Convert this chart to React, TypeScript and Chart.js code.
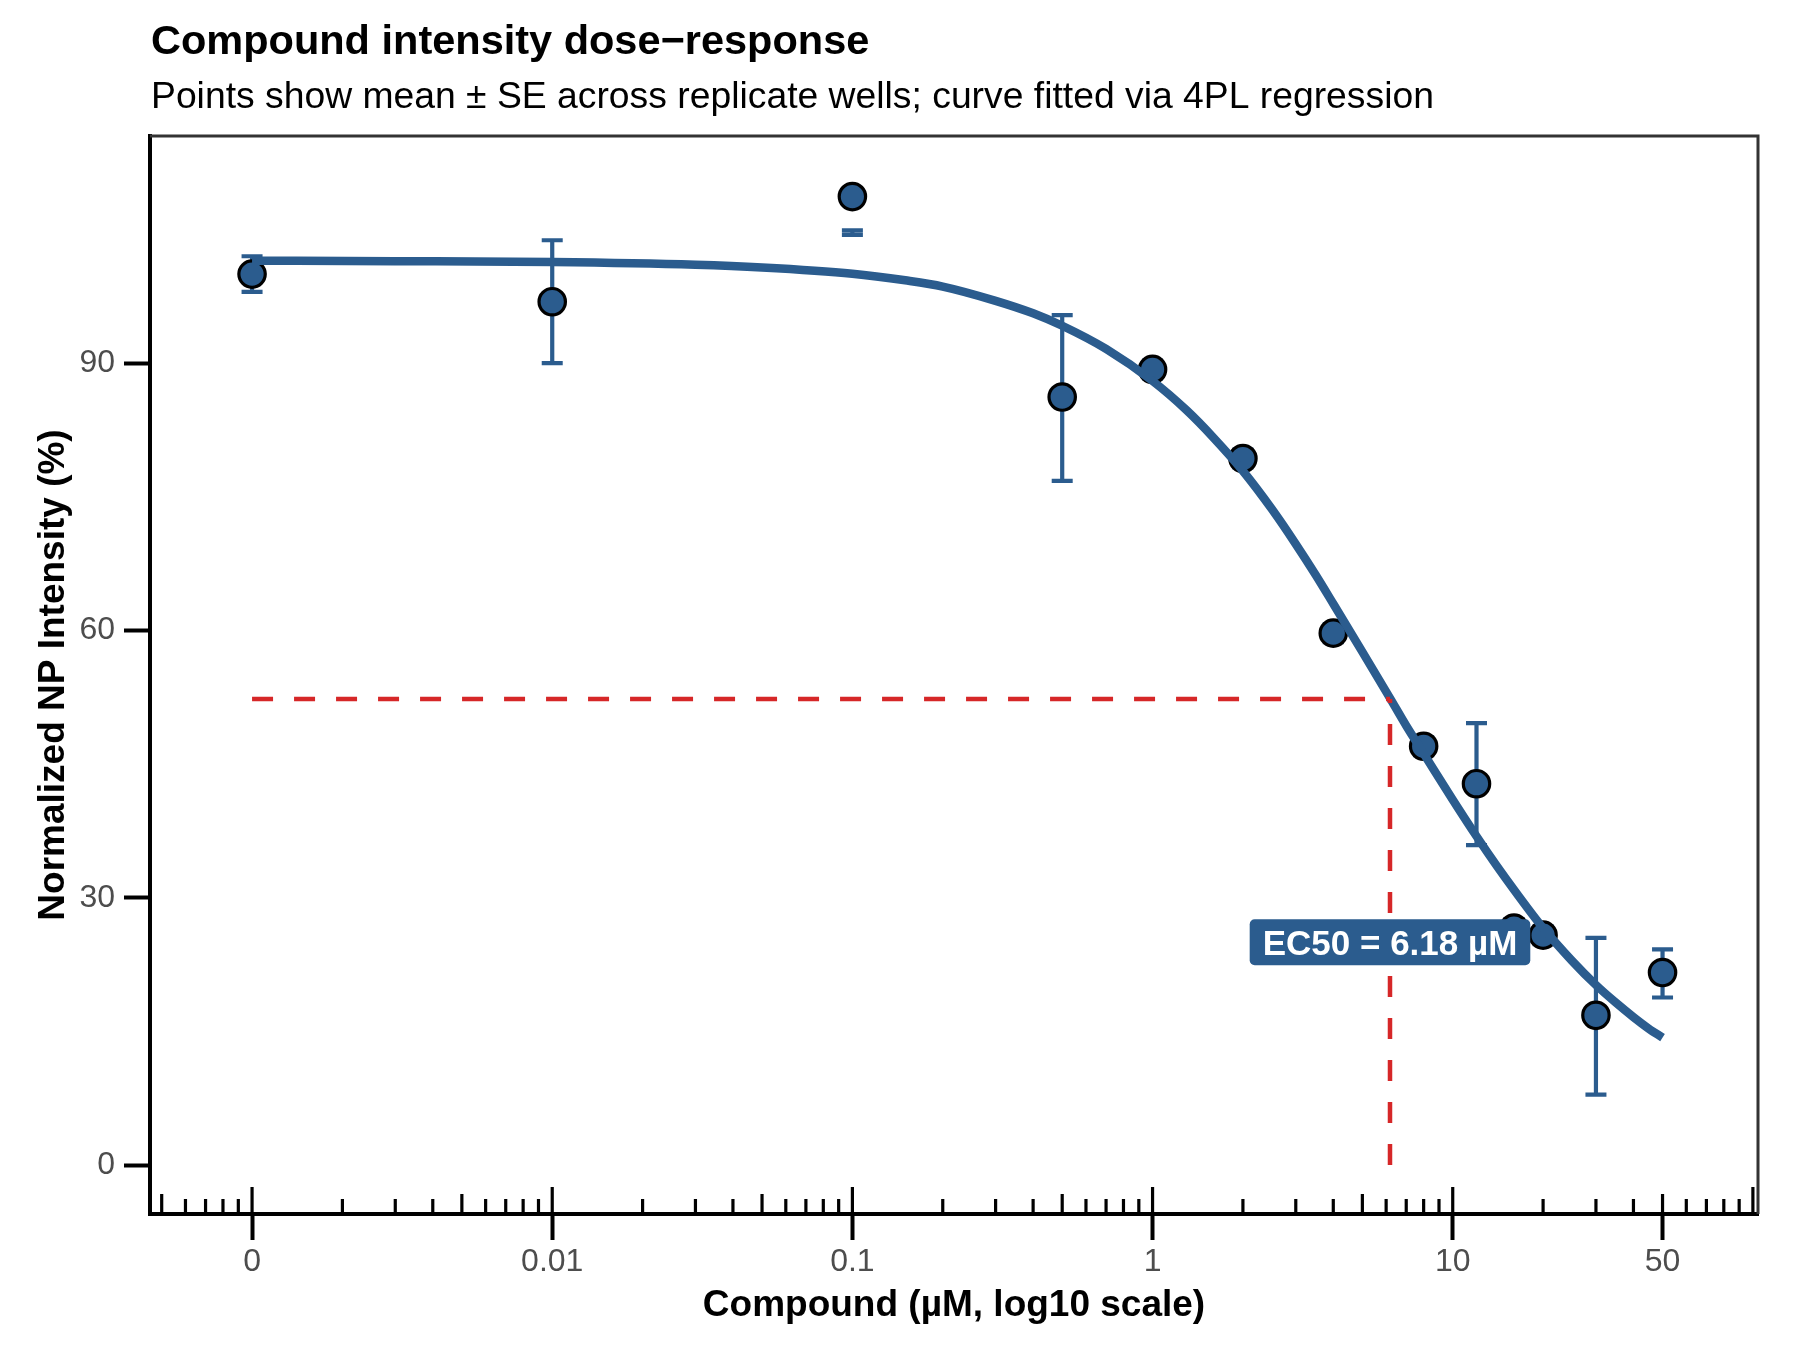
import { useEffect, useRef } from "react"
import { Chart, registerables, type Plugin } from "chart.js"

Chart.register(...registerables)

const FONT = '"Liberation Sans", Arial, Helvetica, sans-serif'
const BLUE = "#2b5c8e"
const RED = "#d62728"
const GREY = "#4d4d4d"

// observed wells (0 dose is drawn at 0.001)
const doses = [0.001, 0.01, 0.1, 0.5, 1, 2, 4, 8, 12, 16, 20, 30, 50]
const meanResponse = [100.0, 96.9, 108.7, 86.2, 89.3, 79.3, 59.7, 47.0, 42.8, 26.6, 25.8, 16.8, 21.6]
const seLow = [98.0, 90.0, 104.4, 76.8, 88.3, 78.3, 58.7, 46.0, 35.9, 25.6, 24.8, 7.9, 18.8]
const seHigh = [102.0, 103.8, 104.9, 95.4, 90.3, 80.3, 60.7, 48.0, 49.6, 27.6, 26.8, 25.5, 24.2]

// fitted 4PL curve
const curveDoses = [
  0.001, 0.003, 0.01, 0.03, 0.05, 0.1, 0.15, 0.2, 0.3, 0.4, 0.5, 0.7, 1, 1.3, 1.6, 2, 2.5, 3, 3.5, 4, 5,
  6.18, 7, 8, 10, 12, 14, 16, 20, 25, 30, 35, 40, 45, 50,
]
const curveResponse = [
  101.5, 101.45, 101.35, 101.05, 100.75, 100.05, 99.3, 98.6, 97.0, 95.6, 94.2, 91.6, 88.0, 84.7, 81.6,
  77.9, 73.6, 69.7, 66.2, 63.0, 57.6, 52.4, 49.3, 46.2, 41.0, 36.9, 33.6, 30.9, 26.6, 22.9, 20.2, 18.2,
  16.6, 15.3, 14.3,
]

const xTickValues = [0.001, 0.01, 0.1, 1, 10, 50]
const xTickLabels = ["0", "0.01", "0.1", "1", "10", "50"]
const yTickValues = [0, 30, 60, 90]

const ec50 = 6.18
const halfResponse = 52.3
const ec50LabelY = 25
const ec50Label = "EC50 = 6.18 µM"

const titleText = "Compound intensity dose\u2212response"
const subtitleText = "Points show mean ± SE across replicate wells; curve fitted via 4PL regression"
const xTitle = "Compound (µM, log10 scale)"
const yTitle = "Normalized NP Intensity (%)"

const errorBars: Plugin = {
  id: "errorBars",
  beforeDatasetsDraw(chart) {
    const { ctx } = chart
    const x = chart.scales.x
    const y = chart.scales.y
    ctx.save()
    ctx.strokeStyle = BLUE
    ctx.lineWidth = 4.2
    doses.forEach((d, i) => {
      const px = x.getPixelForValue(d)
      const lo = y.getPixelForValue(seLow[i])
      const hi = y.getPixelForValue(seHigh[i])
      ctx.beginPath()
      ctx.moveTo(px, lo)
      ctx.lineTo(px, hi)
      ctx.moveTo(px - 10.5, lo)
      ctx.lineTo(px + 10.5, lo)
      ctx.moveTo(px - 10.5, hi)
      ctx.lineTo(px + 10.5, hi)
      ctx.stroke()
    })
    ctx.restore()
  },
}

const annotations: Plugin = {
  id: "annotations",
  afterDatasetsDraw(chart) {
    const { ctx, chartArea } = chart
    const x = chart.scales.x
    const y = chart.scales.y
    ctx.save()

    // EC50 guides
    ctx.strokeStyle = RED
    ctx.lineWidth = 4.5
    ctx.setLineDash([21, 21])
    ctx.beginPath()
    ctx.moveTo(x.getPixelForValue(0.001), y.getPixelForValue(halfResponse))
    ctx.lineTo(x.getPixelForValue(ec50), y.getPixelForValue(halfResponse))
    ctx.stroke()
    ctx.beginPath()
    ctx.moveTo(x.getPixelForValue(ec50), y.getPixelForValue(0))
    ctx.lineTo(x.getPixelForValue(ec50), y.getPixelForValue(halfResponse))
    ctx.stroke()
    ctx.setLineDash([])

    // panel border (top, right)
    ctx.strokeStyle = "#333333"
    ctx.lineWidth = 3
    ctx.beginPath()
    ctx.moveTo(chartArea.left, chartArea.top)
    ctx.lineTo(chartArea.right, chartArea.top)
    ctx.lineTo(chartArea.right, chartArea.bottom)
    ctx.stroke()

    // log ticks along the bottom of the panel
    ctx.strokeStyle = "#000"
    ctx.lineWidth = 3.2
    for (let e = -4; e <= 2; e++) {
      for (let m = 1; m <= 9; m++) {
        const v = m * 10 ** e
        const px = x.getPixelForValue(v)
        if (px < chartArea.left + 1 || px > chartArea.right - 1) continue
        const len = m === 1 ? 27 : m === 5 ? 20 : 15
        ctx.beginPath()
        ctx.moveTo(px, chartArea.bottom)
        ctx.lineTo(px, chartArea.bottom - len)
        ctx.stroke()
      }
    }

    // EC50 label
    ctx.font = `bold 35px ${FONT}`
    const tw = ctx.measureText(ec50Label).width
    const cx = x.getPixelForValue(ec50)
    const cy = y.getPixelForValue(ec50LabelY)
    const bw = tw + 26
    const bh = 46
    ctx.fillStyle = BLUE
    ctx.beginPath()
    ctx.roundRect(cx - bw / 2, cy - bh / 2, bw, bh, 5)
    ctx.fill()
    ctx.fillStyle = "#fff"
    ctx.textAlign = "center"
    ctx.textBaseline = "alphabetic"
    ctx.fillText(ec50Label, cx, cy + 12.5)
    ctx.restore()
  },
  afterDraw(chart) {
    const { ctx, chartArea } = chart
    ctx.save()
    ctx.fillStyle = "#000"
    ctx.textBaseline = "alphabetic"
    ctx.textAlign = "left"
    ctx.font = `bold 41.5px ${FONT}`
    ctx.fillText(titleText, chartArea.left + 1, 54)
    ctx.font = `37.3px ${FONT}`
    ctx.fillText(subtitleText, chartArea.left + 1, 108)

    ctx.font = `bold 37px ${FONT}`
    ctx.textAlign = "center"
    ctx.fillText(xTitle, (chartArea.left + chartArea.right) / 2, 1316)
    ctx.translate(64, (chartArea.top + chartArea.bottom) / 2)
    ctx.rotate(-Math.PI / 2)
    ctx.fillText(yTitle, 0, 0)
    ctx.restore()
  },
}

export default function App() {
  const canvasRef = useRef<HTMLCanvasElement>(null)
  const chartRef = useRef<Chart | null>(null)

  useEffect(() => {
    document.body.style.margin = "0"
    if (!canvasRef.current) return
    if (chartRef.current) chartRef.current.destroy()

    chartRef.current = new Chart(canvasRef.current, {
      type: "scatter",
      data: {
        datasets: [
          {
            type: "line",
            label: "4PL fit",
            data: curveDoses.map((d, i) => ({ x: d, y: curveResponse[i] })),
            borderColor: BLUE,
            borderWidth: 8.5,
            borderCapStyle: "butt",
            pointRadius: 0,
            cubicInterpolationMode: "monotone",
            fill: false,
            order: 0,
          },
          {
            type: "scatter",
            label: "mean",
            data: doses.map((d, i) => ({ x: d, y: meanResponse[i] })),
            pointRadius: 13.2,
            pointBackgroundColor: BLUE,
            pointBorderColor: "#000",
            pointBorderWidth: 3.2,
            order: 1,
          },
        ],
      },
      options: {
        responsive: false,
        animation: false,
        devicePixelRatio: 1,
        layout: { padding: { top: 136, right: 42, left: 0, bottom: 0 } },
        plugins: {
          legend: { display: false },
          tooltip: { enabled: false },
        },
        scales: {
          x: {
            type: "logarithmic",
            min: 10 ** -3.34,
            max: 10 ** 2.017,
            afterBuildTicks: (s) => {
              s.ticks = xTickValues.map((v) => ({ value: v }))
            },
            afterFit: (s) => {
              s.height = 136
            },
            ticks: {
              autoSkip: false,
              maxRotation: 0,
              padding: 3,
              color: GREY,
              font: { family: FONT, size: 32 },
              callback: (v) => xTickLabels[xTickValues.indexOf(Number(v))] ?? "",
            },
            grid: {
              drawOnChartArea: false,
              drawTicks: true,
              tickLength: 26,
              tickWidth: 4,
              color: "#000",
              tickColor: "#000",
            },
            border: { display: true, color: "#000", width: 4 },
          },
          y: {
            type: "linear",
            min: -5.5,
            max: 115.5,
            afterBuildTicks: (s) => {
              s.ticks = yTickValues.map((v) => ({ value: v }))
            },
            afterFit: (s) => {
              s.width = 150
            },
            ticks: {
              padding: 9,
              color: GREY,
              font: { family: FONT, size: 32 },
            },
            grid: {
              drawOnChartArea: false,
              drawTicks: true,
              tickLength: 26,
              tickWidth: 4,
              color: "#000",
              tickColor: "#000",
            },
            border: { display: true, color: "#000", width: 4 },
          },
        },
      },
      plugins: [errorBars, annotations],
    })

    return () => {
      if (chartRef.current) {
        chartRef.current.destroy()
        chartRef.current = null
      }
    }
  }, [])

  return (
    <div style={{ width: 1800, height: 1350, background: "#fff" }}>
      <canvas ref={canvasRef} width={1800} height={1350} style={{ display: "block" }} />
    </div>
  )
}
